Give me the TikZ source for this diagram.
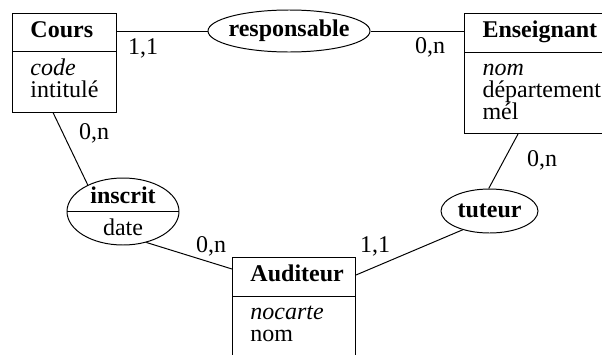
\documentclass[tikz,border=0pt]{standalone}
\usepackage{fontspec}
\setmainfont{Liberation Serif}
\usetikzlibrary{shapes.geometric,shapes.multipart}
\newcommand\erfont{\fontsize{17.07}{15.65}\selectfont\lineskiplimit=-10pt\relax}
\tikzset{
  entity/.style={draw, line width=0.7pt, rectangle split, rectangle split parts=2,
    align=left, anchor=north west, inner xsep=0.45cm, inner ysep=0.18cm},
  assoc/.style={draw, ellipse, line width=0.7pt, inner sep=-4pt, align=center},
  card/.style={inner sep=0pt},
}
\def\entnode{\node[entity]}
\def\assocnode{\node[assoc]}
\def\cardnode{\node[card]}
\def\drawlink{\draw[line width=0.7pt]}

\begin{document}
\begin{tikzpicture}[font=\erfont]
\useasboundingbox (0,0) rectangle (15.05,8.85);
\clip (0,0) rectangle (15.05,8.85);
% entities
\entnode[text width=1.7cm] (cours) at (0.3,8.525) {\textbf{Cours}\strut
  \nodepart{two}\strut\textit{code}\\intitulé\strut};
\entnode[text width=3.1cm] (ens) at (11.6,8.525) {\textbf{Enseignant}\strut
  \nodepart{two}\strut\textit{nom}\\département\\mél\strut};
\entnode[text width=2.175cm] (aud) at (5.8,2.425) {\textbf{Auditeur}\strut
  \nodepart{two}\strut\textit{nocarte}\\nom\strut};
% associations
\assocnode[minimum width=4.05cm, minimum height=1.05cm] (resp) at (7.225,8.075) {\textbf{responsable}};
\assocnode[minimum width=2.425cm, minimum height=1.1cm] (tut) at (12.2375,3.575) {\textbf{tuteur}};
\assocnode[minimum width=2.8cm, minimum height=1.675cm] (ins) at (3.075,3.5625) {\textbf{inscrit}\\[0.25cm]date};
\draw[line width=0.7pt] (ins.west) -- (ins.east);
% links
\drawlink (resp.west -| cours.east) -- (resp.west);
\drawlink (resp.east) -- (resp.east -| ens.west);
\drawlink ([xshift=1.025cm]cours.south west) -- (ins.143);
\drawlink (ins.-53) -- ([yshift=-0.3cm]aud.north west);
\drawlink ([yshift=-0.45cm]aud.north east) -- (tut.215);
\drawlink ([xshift=1.35cm]ens.south west) -- (tut.92);
% cardinalities
\cardnode (c1) at (3.575,7.65) {1,1};
\cardnode (c2) at (10.75,7.675) {0,n};
\cardnode (c3) at (2.35,5.525) {0,n};
\cardnode (c4) at (5.275,2.7) {0,n};
\cardnode (c5) at (9.375,2.7) {1,1};
\cardnode (c6) at (13.55,4.85) {0,n};
\end{tikzpicture}
\end{document}
